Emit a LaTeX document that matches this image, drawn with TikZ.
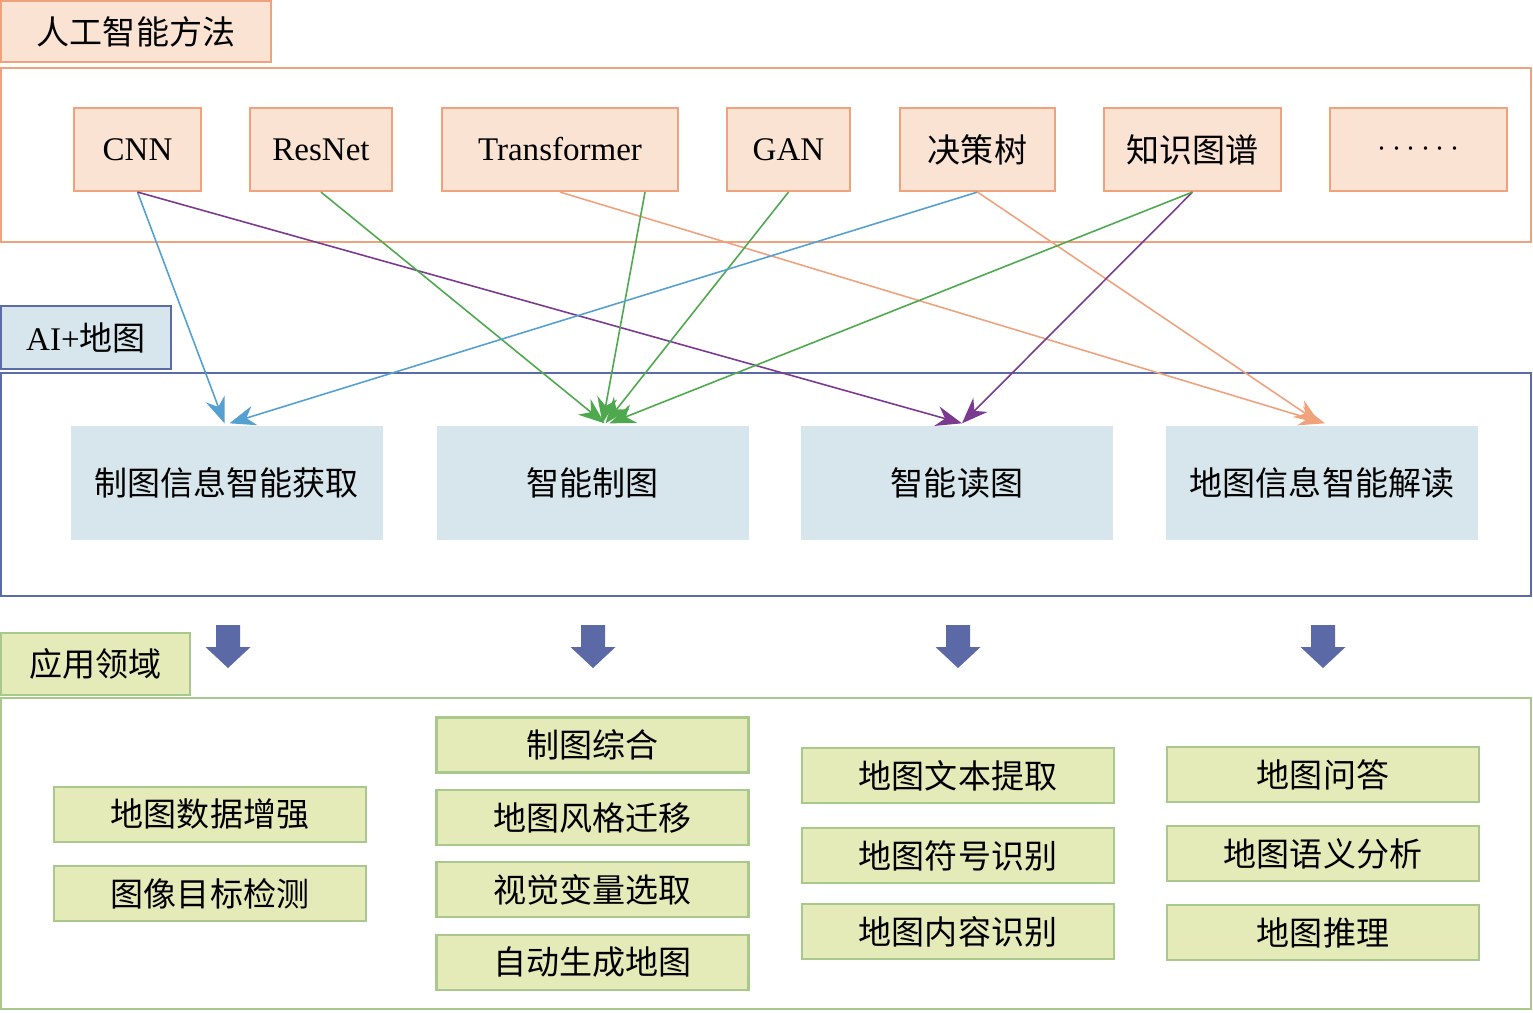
\documentclass[tikz,border=0pt]{standalone}
\usepackage{fontspec}
\setmainfont{Liberation Serif}
\newfontfamily\cjk{Noto Sans CJK SC}
\usetikzlibrary{arrows.meta, calc}

\definecolor{orfill}{HTML}{FBE3D4}
\definecolor{orline}{HTML}{EFA27C}
\definecolor{blfill}{HTML}{D7E6EC}
\definecolor{blline}{HTML}{5B6BA8}
\definecolor{grfill}{HTML}{E4EBB9}
\definecolor{grline}{HTML}{A9C98C}
\definecolor{arblue}{HTML}{55A0D3}
\definecolor{arpurple}{HTML}{7A3A8F}
\definecolor{argreen}{HTML}{4EA84E}
\definecolor{arorange}{HTML}{EFA27C}
\definecolor{downblue}{HTML}{5B6AA6}

\tikzset{
	txt/.style={font=\fontsize{9.4}{11}\selectfont},
	method/.style={txt, draw=orline, fill=orfill, line width=0.6pt, minimum height=0.83cm, inner sep=0pt},
	task/.style={txt, font=\fontsize{9.4}{11}\selectfont\cjk, fill=blfill, minimum width=3.12cm, minimum height=1.14cm, inner sep=0pt},
	app/.style={txt, font=\fontsize{9.4}{11}\selectfont\cjk, draw=grline, fill=grfill, line width=0.6pt, minimum width=3.12cm, minimum height=0.55cm, inner sep=0pt},
	link/.style={-{Stealth[length=2.6mm, width=2mm]}, line width=0.45pt},
}

\begin{document}
\begin{tikzpicture}[x=1cm, y=1cm, line join=miter]
\useasboundingbox (0,0) rectangle (15.33,-10.12);
%========================
% Top: AI methods
%========================
\node[method, font=\fontsize{9.4}{11}\selectfont\cjk, minimum width=2.7cm, minimum height=0.61cm] (aihead) at (1.36,-0.315) {人工智能方法};
\draw[orline, line width=0.6pt] (0.01,-0.68) rectangle (15.31,-2.42);

\node[method, minimum width=1.27cm] (cnn) at (1.375,-1.495) {CNN};
\node[method, minimum width=1.42cm] (resnet) at (3.21,-1.495) {ResNet};
\node[method, minimum width=2.36cm] (tf) at (5.60,-1.495) {Transformer};
\node[method, minimum width=1.23cm] (gan) at (7.885,-1.495) {GAN};
\node[method, minimum width=1.55cm, font=\fontsize{9.4}{11}\selectfont\cjk] (dt) at (9.775,-1.495) {决策树};
\node[method, minimum width=1.77cm, font=\fontsize{9.4}{11}\selectfont\cjk] (kg) at (11.925,-1.495) {知识图谱};
\node[method, minimum width=1.77cm] (more) at (14.185,-1.495) {$\cdots\cdots$};

%========================
% Middle: AI + map
%========================
\node[txt, draw=blline, fill=blfill, line width=0.6pt, minimum width=1.7cm, minimum height=0.63cm, inner sep=0pt] (mapshead) at (0.86,-3.375) {AI+{\cjk 地图}};
\draw[blline, line width=0.6pt] (0.01,-3.73) rectangle (15.31,-5.96);

\node[task] (acq) at (2.265,-4.83) {制图信息智能获取};
\node[task] (mk) at (5.925,-4.83) {智能制图};
\node[task] (rd) at (9.57,-4.83) {智能读图};
\node[task] (intp) at (13.22,-4.83) {地图信息智能解读};

% connectors method -> task
\draw[link, arblue] (cnn.south) -- ([xshift=-0.02cm,yshift=0.02cm]acq.north);
\draw[link, arpurple] (cnn.south) -- ([xshift=0.05cm,yshift=0.02cm]rd.north);
\draw[link, argreen] (resnet.south) -- ([xshift=0.12cm,yshift=0.02cm]mk.north);
\draw[link, arorange] (tf.south) -- ([xshift=0.03cm,yshift=0.02cm]intp.north);
\draw[link, argreen] ([xshift=0.85cm]tf.south) -- ([xshift=0.10cm,yshift=0.02cm]mk.north);
\draw[link, argreen] (gan.south) -- ([xshift=0.13cm,yshift=0.02cm]mk.north);
\draw[link, arblue] (dt.south) -- ([xshift=0.03cm,yshift=0.02cm]acq.north);
\draw[link, arorange] (dt.south) -- ([xshift=-0.02cm,yshift=0.02cm]intp.north);
\draw[link, arpurple] (kg.south) -- ([xshift=0.05cm,yshift=0.02cm]rd.north);
\draw[link, argreen] (kg.south) -- ([xshift=0.17cm,yshift=0.02cm]mk.north);

% block arrows down
\foreach \cx in {2.28,5.93,9.58,13.23}
	\fill[downblue] (\cx-0.12,-6.25) -- (\cx+0.12,-6.25) -- (\cx+0.12,-6.47) -- (\cx+0.225,-6.47)
		-- (\cx,-6.68) -- (\cx-0.225,-6.47) -- (\cx-0.12,-6.47) -- cycle;

%========================
% Bottom: application fields
%========================
\node[app, minimum width=1.89cm, minimum height=0.62cm] (apphead) at (0.955,-6.64) {应用领域};
\draw[grline, line width=0.6pt] (0.01,-6.98) rectangle (15.31,-10.09);

\node[app] (a11) at (2.10,-8.145) {地图数据增强};
\node[app] (a12) at (2.10,-8.935) {图像目标检测};

\node[app] (a21) at (5.925,-7.45) {制图综合};
\node[app] (a22) at (5.925,-8.175) {地图风格迁移};
\node[app] (a23) at (5.925,-8.895) {视觉变量选取};
\node[app] (a24) at (5.925,-9.625) {自动生成地图};

\node[app] (a31) at (9.58,-7.755) {地图文本提取};
\node[app] (a32) at (9.58,-8.555) {地图符号识别};
\node[app] (a33) at (9.58,-9.315) {地图内容识别};

\node[app] (a41) at (13.23,-7.745) {地图问答};
\node[app] (a42) at (13.23,-8.535) {地图语义分析};
\node[app] (a43) at (13.23,-9.325) {地图推理};
\end{tikzpicture}
\end{document}
